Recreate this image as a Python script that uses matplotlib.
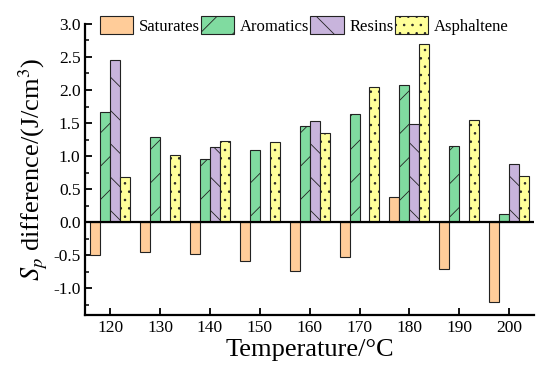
import numpy as np
from matplotlib import pyplot as plt
from matplotlib.ticker import MultipleLocator

plt.rcParams['font.family'] = ['Liberation Serif', 'DejaVu Serif']
plt.rcParams['mathtext.fontset'] = 'stix'
plt.rcParams['hatch.linewidth'] = 0.6

# data
temps = [120, 130, 140, 150, 160, 170, 180, 190, 200]
saturates = [-0.50, -0.45, -0.48, -0.59, -0.74, -0.53, 0.38, -0.70, -1.21]
aromatics = [1.67, 1.29, 0.95, 1.10, 1.45, 1.64, 2.07, 1.16, 0.13]
resins = [2.46, 0, 1.14, 0, 1.53, 0, 1.48, 0, 0.88]
asphaltene = [0.69, 1.02, 1.23, 1.22, 1.35, 2.05, 2.70, 1.55, 0.70]

names = ['Saturates', 'Aromatics', 'Resins', 'Asphaltene']
colors = ['#FFCC99', '#80DBA0', '#C8B4DC', '#FFFF99']
hatches = ['', '/', '\\', '..']

fig = plt.figure(figsize=(5.5, 3.85), dpi=100)
ax = fig.add_axes([0.155, 0.182, 0.816, 0.756])

x = np.array(temps, dtype=float)
w = 2.0
offsets = [-3, -1, 1, 3]
for vals, name, c, h, off in zip([saturates, aromatics, resins, asphaltene],
                                 names, colors, hatches, offsets):
    ax.bar(x + off, vals, width=w, color=c, edgecolor='#222222',
           linewidth=0.8, hatch=h, label=name, zorder=2)

ax.axhline(0, color='black', lw=1.6, zorder=3)

ax.set_xlim(115, 205)
ax.set_ylim(-1.4, 3.0)
ax.set_xticks(temps)
ax.yaxis.set_major_locator(MultipleLocator(0.5))
ax.yaxis.set_minor_locator(MultipleLocator(0.25))
ax.set_yticklabels(['%.1f' % v for v in ax.get_yticks()])
ax.tick_params(direction='in', labelsize=12.5, width=1.3, length=5)
ax.tick_params(which='minor', direction='in', width=1.1, length=3)
ax.tick_params(axis='x', which='minor', length=0)

for s in ['top', 'right']:
    ax.spines[s].set_visible(False)
for s in ['left', 'bottom']:
    ax.spines[s].set_linewidth(1.6)

ax.set_xlabel('Temperature/°C', fontsize=19, labelpad=2)
ax.set_ylabel('$S_p$ difference/(J/cm$^3$)', fontsize=19, labelpad=2)

ax.legend(loc='center', bbox_to_anchor=(0.488, 0.995), ncol=4,
          frameon=False, fontsize=12, handlelength=2.0, handleheight=1.3,
          handletextpad=0.35, columnspacing=0.05, borderaxespad=0,
          borderpad=0)

fig.savefig('out.png', dpi=100)
